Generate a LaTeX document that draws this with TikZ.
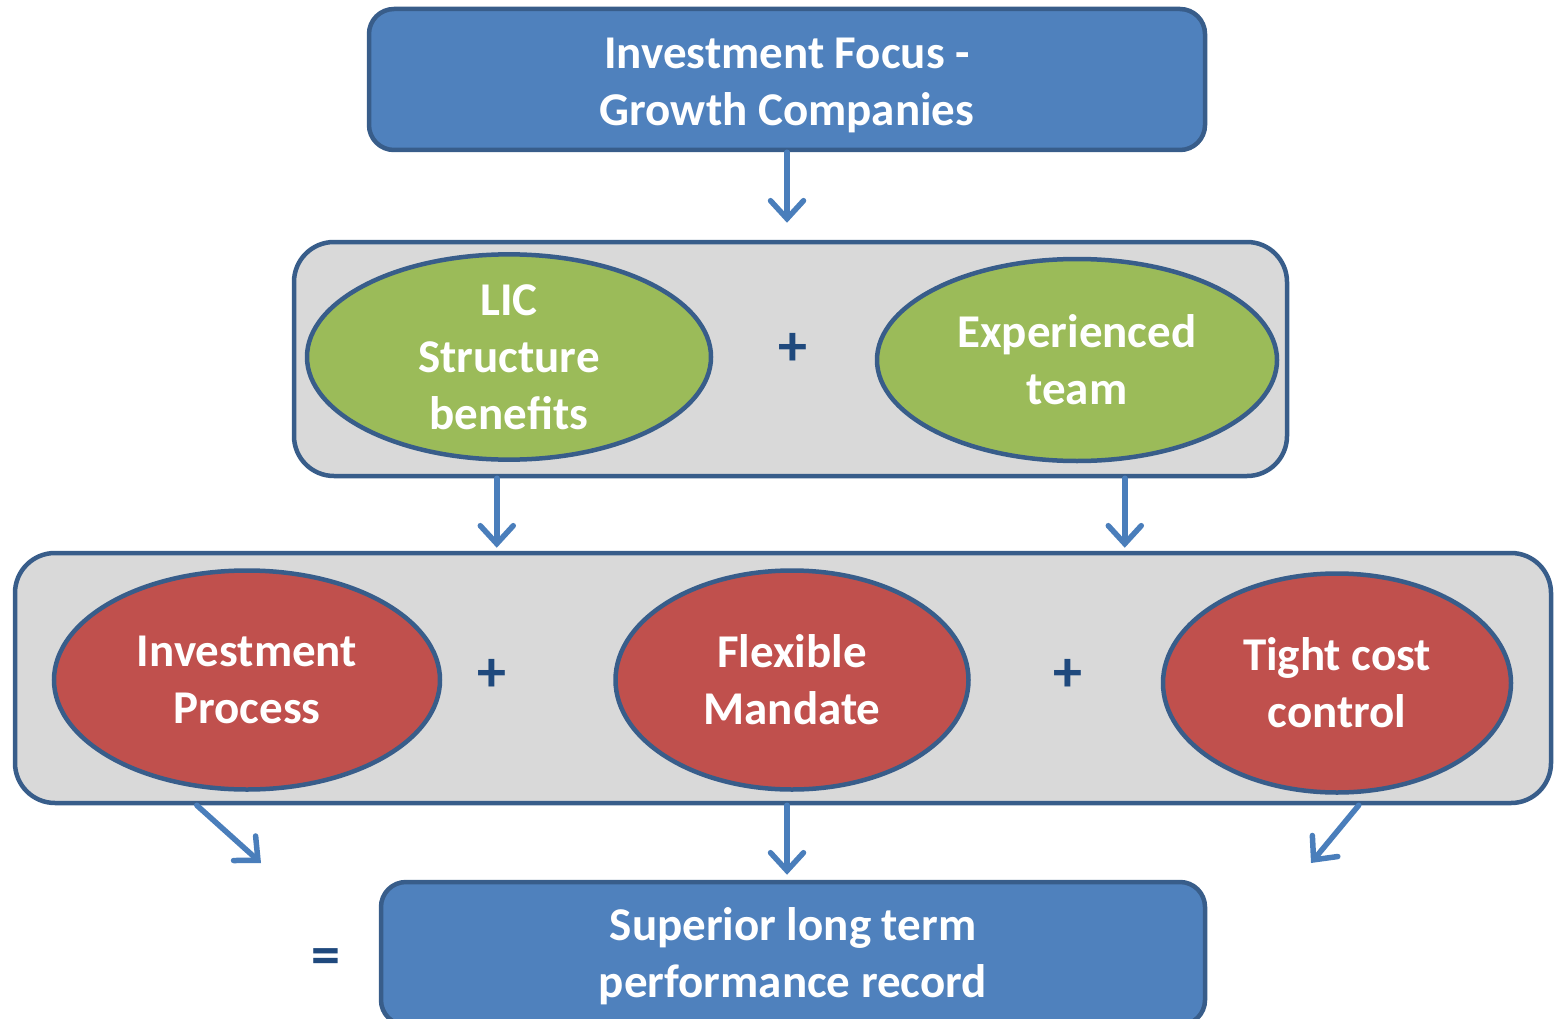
\documentclass[tikz,border=0pt]{standalone}
\usepackage{fontspec}
\setmainfont{Carlito}
\usetikzlibrary{shapes.geometric,arrows.meta,calc}

\definecolor{boxblue}{HTML}{4F81BD}
\definecolor{edgeblue}{HTML}{385D8A}
\definecolor{groupgray}{HTML}{D9D9D9}
\definecolor{ovalgreen}{HTML}{9BBB59}
\definecolor{ovalred}{HTML}{C0504D}
\definecolor{arrowblue}{HTML}{4A7EBB}
\definecolor{signblue}{HTML}{1F497D}

\tikzset{
  label text/.style={font=\bfseries\fontsize{47}{57}\selectfont, text=white, align=center, inner sep=0pt},
  bluebox/.style={label text, draw=edgeblue, fill=boxblue, line width=4.5pt, rounded corners=25pt},
  groupbox/.style={draw=edgeblue, fill=groupgray, line width=4.5pt, rounded corners=40pt, inner sep=0pt},
  greenoval/.style={label text, ellipse, draw=edgeblue, fill=ovalgreen, line width=4.5pt},
  redoval/.style={label text, ellipse, draw=edgeblue, fill=ovalred, line width=4.5pt},
  sign/.style={font=\bfseries\fontsize{58}{58}\selectfont, text=signblue, inner sep=0pt},
  flow/.style={draw=arrowblue, line width=5.5pt, line cap=round,
    -{Straight Barb[length=18pt,width=33pt,line cap=round]}}
}

\begin{document}
\begin{tikzpicture}[x=1pt, y=-1pt]
    \useasboundingbox (0,0) rectangle (1554,1019);

    % top and containers
    \node [bluebox, minimum width=836pt, minimum height=141pt] (focus) at (787,79.5) {\rule{0pt}{43pt}Investment Focus -\\Growth Companies};
    \node [groupbox, minimum width=993pt, minimum height=234pt] (mid) at (790.5,359) {};
    \node [groupbox, minimum width=1536pt, minimum height=250pt] (bot) at (783,678) {};
    \node [bluebox, minimum width=824pt, minimum height=143pt] (result) at (793,953.5) {\rule{0pt}{39pt}Superior long term\\performance record};

    % first row
    \node [greenoval, minimum width=404pt, minimum height=202pt] (lic) at (509,357) {LIC\\Structure\\benefits};
    \node [sign] (plusA) at (793,349) {+};
    \node [greenoval, minimum width=400pt, minimum height=202pt] (team) at (1077,360) {Experienced\\team};

    % second row
    \node [redoval, minimum width=386pt, minimum height=219pt] (process) at (247,680) {Investment\\Process};
    \node [sign] (plusB) at (492,675) {+};
    \node [redoval, minimum width=353pt, minimum height=219pt] (mandate) at (792,680) {Flexible\\Mandate};
    \node [sign] (plusC) at (1068,675) {+};
    \node [redoval, minimum width=348pt, minimum height=219pt] (cost) at (1337,683) {Tight cost\\control};

    \node [sign] (equals) at (326,962) {=};

    % arrows
    \coordinate (leftend) at (261,863);
    \coordinate (rightend) at (1311,863);
    \draw [flow] (focus.south) -- ($(focus.south |- mid.north)+(0,-17)$);
    \draw [flow] ($(mid.south west)+(205,0)$) -- ($(mid.south west |- bot.north)+(205,-3)$);
    \draw [flow] ($(mid.south west)+(833,0)$) -- ($(mid.south west |- bot.north)+(833,-3)$);
    \draw [flow] ($(bot.south west)+(184,0)$) -- (leftend);
    \draw [flow] ($(result.north |- bot.south)+(-6,0)$) -- ($(result.north)+(-6,-5)$);
    \draw [flow] ($(bot.south west)+(1346,0)$) -- (rightend);
\end{tikzpicture}
\end{document}
